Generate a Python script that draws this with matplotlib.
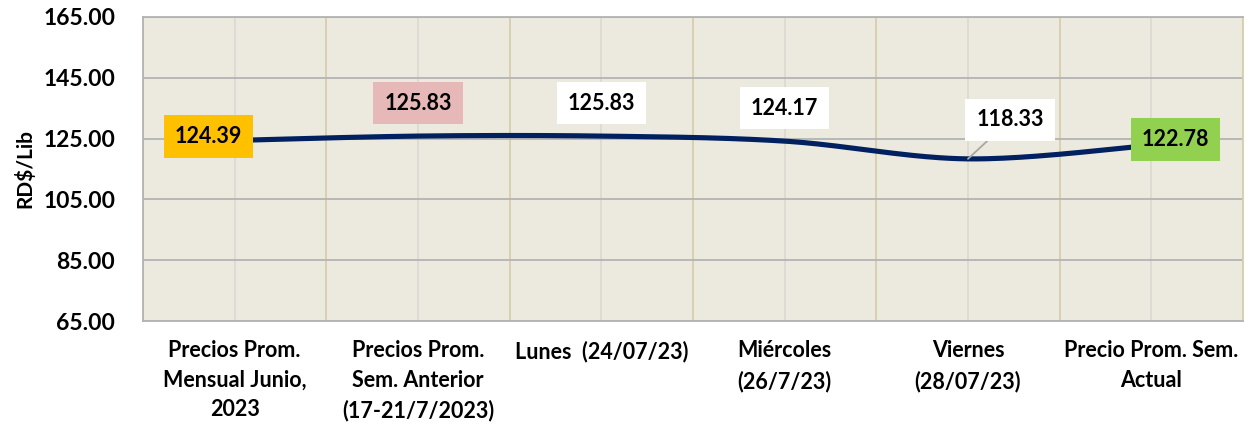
import numpy as np
import matplotlib
matplotlib.use("Agg")
import matplotlib.pyplot as plt
from matplotlib.ticker import FixedLocator, FormatStrFormatter

plt.rcParams['font.family'] = ['Lato', 'DejaVu Sans']

categories = ["Precios Prom.\nMensual Junio,\n2023",
              "Precios Prom.\nSem. Anterior\n(17-21/7/2023)",
              "Lunes  (24/07/23)",
              "Miércoles\n(26/7/23)",
              "Viernes\n(28/07/23)",
              "Precio Prom. Sem.\nActual"]
values = [124.39, 125.83, 125.83, 124.17, 118.33, 122.78]
label_texts = ["124.39", "125.83", "125.83", "124.17", "118.33", "122.78"]
label_colors = ["#FFC000", "#E6B9B8", "#FFFFFF", "#FFFFFF", "#FFFFFF", "#92D050"]
label_offsets = [(-26, 4), (0, 33), (0, 33), (0, 33), (42, 39), (24, 6)]
yticks = [65, 85, 105, 125, 145, 165]

fig = plt.figure(figsize=(12.54, 4.25), dpi=100)
ax = fig.add_axes([143/1254, 1-321/425, 1100/1254, 304/425])
ax.set_facecolor("#ECE9DF")

x = np.arange(len(values), dtype=float)
y = np.array(values, dtype=float)

# smoothed line (cubic Bezier through points, Excel-like smoothing)
def smooth(xp, yp, n=40, t=1/6):
    P = np.column_stack([xp, yp])
    pts = []
    for i in range(len(P)-1):
        p0 = P[i-1] if i > 0 else P[i]
        p1 = P[i]
        p2 = P[i+1]
        p3 = P[i+2] if i+2 < len(P) else P[i+1]
        c1 = p1 + (p2 - p0) * t
        c2 = p2 - (p3 - p1) * t
        s = np.linspace(0, 1, n)[:, None]
        seg = (1-s)**3*p1 + 3*(1-s)**2*s*c1 + 3*(1-s)*s**2*c2 + s**3*p2
        pts.append(seg if i == 0 else seg[1:])
    pts = np.vstack(pts)
    return pts[:, 0], pts[:, 1]

sx, sy = smooth(x, y)
ax.plot(sx, sy, color="#002060", lw=3.7, solid_capstyle='round', zorder=3)

ax.set_xlim(-0.5, len(values)-0.5)
ax.set_ylim(65, 165)
ax.set_yticks(yticks)
ax.yaxis.set_major_formatter(FormatStrFormatter('%.2f'))
ax.set_xticks(x)
ax.set_xticklabels(categories)
ax.xaxis.set_minor_locator(FixedLocator(np.arange(-0.5, len(values), 1.0)))

ax.grid(axis='y', which='major', color="#B3B3B3", lw=1.3, zorder=1)
ax.grid(axis='x', which='major', color="#DCD9D2", lw=1.2, zorder=1)
ax.grid(axis='x', which='minor', color="#D5CFAE", lw=1.3, zorder=1)
ax.tick_params(axis='both', which='both', length=0)
ax.tick_params(axis='y', pad=20, labelsize=16.5)
ax.tick_params(axis='x', pad=14, labelsize=15.5)
for lab in ax.get_xticklabels() + ax.get_yticklabels():
    lab.set_fontweight('bold')
for lab in ax.get_xticklabels():
    lab.set_linespacing(1.5)

for sp in ['top', 'bottom', 'left']:
    ax.spines[sp].set_color("#B3B3B3")
    ax.spines[sp].set_linewidth(1.3)
ax.spines['right'].set_color("#D5CFAE")
ax.spines['right'].set_linewidth(1.3)

ax.set_ylabel("RD$/Lib", fontsize=15, fontweight='bold', labelpad=6)

for i, (t, c, off) in enumerate(zip(label_texts, label_colors, label_offsets)):
    kw = {}
    if i == 4:
        kw['arrowprops'] = dict(arrowstyle='-', color="#A6A6A6", lw=1.3,
                                shrinkA=0, shrinkB=0)
    ax.annotate(t, (x[i], y[i]), xytext=off, textcoords='offset pixels',
                ha='center', va='center', fontsize=15.5, fontweight='bold',
                bbox=dict(boxstyle='square,pad=0.5', fc=c, ec='none'),
                zorder=5, **kw)

fig.savefig("out.png", dpi=100)
